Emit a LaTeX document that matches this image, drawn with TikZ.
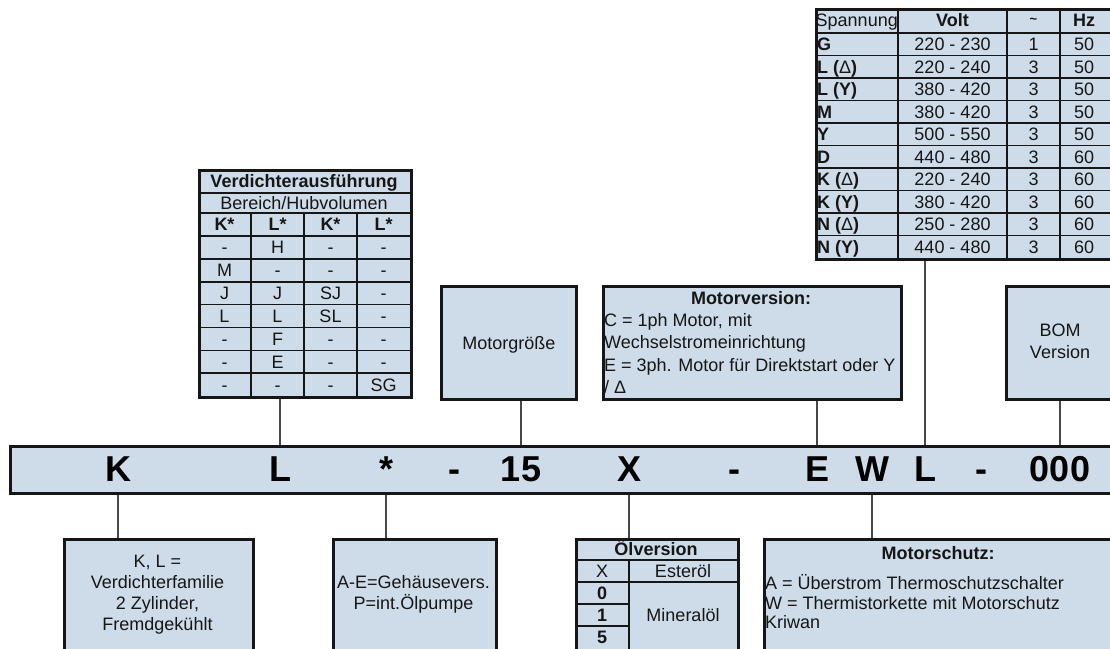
\documentclass[tikz,border=0pt]{standalone}
\usepackage{fontspec}
\setmainfont{Liberation Sans}
\definecolor{fillb}{RGB}{206,220,233}
\definecolor{ink}{RGB}{22,22,22}
\definecolor{wirec}{RGB}{72,72,72}
\tikzset{
  box/.style={draw=ink, line width=2.6pt, fill=fillb, inner sep=0pt, anchor=north west},
  grid/.style={draw=ink, line width=1.6pt},
  wire/.style={draw=wirec, line width=1.8pt},
  txt/.style={font=\fontsize{18}{22}\selectfont, text=ink, inner sep=0pt, text height=12.9pt, text depth=0pt},
  btxt/.style={txt, font=\fontsize{18}{22}\selectfont\bfseries},
  code/.style={font=\fontsize{36}{36}\selectfont\bfseries, text=black, inner sep=0pt, anchor=base},
}
\begin{document}
\begin{tikzpicture}[x=1pt,y=-1pt]
\useasboundingbox (0,0) rectangle (1110,648);
\clip (0,0) rectangle (1110,648);

% ---------- code bar ----------
\node[box, minimum width=1110pt, minimum height=47pt] (bar) at (9,445) {};
\foreach \n/\x/\t in {cK/118/K, cL1/280/L, cS/386/*, cD1/454/-, c15/521/15, cX/629/X,
                      cD2/734/-, cE/817/E, cW/872/W, cL2/925/L, cD3/981/-, c000/1060/000}
  \node[code] (\n) at (\x,481) {\t};

% ---------- Verdichterausfuehrung table ----------
\node[box, minimum width=212pt, minimum height=227pt] (vd) at (198,169) {};
\foreach \y in {193,213,236,258.9,281.7,304.6,327.4,350.3,373.1}
  \draw[grid] (198,\y) -- (410,\y);
\foreach \x in {251,304,357}
  \draw[grid] (\x,213) -- (\x,396);
\node[btxt] (vdt) at (304,181) {Verdichterausführung};
\node[txt] (vds) at (304,203) {Bereich/Hubvolumen};
\node[btxt] (vdh1) at (224.5,224.5) {K*};
\node[btxt] (vdh2) at (277.5,224.5) {L*};
\node[btxt] (vdh3) at (330.5,224.5) {K*};
\node[btxt] (vdh4) at (383.5,224.5) {L*};
\foreach \r/\a/\b/\c/\d in {1/-/H/-/-, 2/M/-/-/-, 3/J/J/SJ/-, 4/L/L/SL/-,
                            5/-/F/-/-, 6/-/E/-/-, 7/-/-/-/SG}{
  \pgfmathsetmacro\yy{236+22.857*(\r-0.5)}
  \node[txt] (vd\r a) at (224.5,\yy) {\a};
  \node[txt] (vd\r b) at (277.5,\yy) {\b};
  \node[txt] (vd\r c) at (330.5,\yy) {\c};
  \node[txt] (vd\r d) at (383.5,\yy) {\d};
}

% ---------- Spannung table ----------
\node[box, minimum width=300pt, minimum height=250pt] (sp) at (815,8) {};
\foreach \k in {0,...,9}
  \draw[grid] (815,33+22.5*\k) -- (1115,33+22.5*\k);
\foreach \x in {898,1007,1060}
  \draw[grid] (\x,8) -- (\x,258);
\node[txt, anchor=west] (sph1) at (815.5,20.5) {Spannung};
\node[btxt] (sph2) at (952.5,20.5) {Volt};
\node[btxt] (sph3) at (1033.5,20.5) {\raisebox{3pt}{\fontsize{13}{13}\selectfont\bfseries \char`~}};
\node[btxt] (sph4) at (1084,20.5) {Hz};
\foreach \r/\a/\b/\c/\d in {1/G/220 - 230/1/50, 2/{L (}\mdseries Δ\bfseries)/220 - 240/3/50,
   3/L (Y)/380 - 420/3/50, 4/M/380 - 420/3/50, 5/Y/500 - 550/3/50, 6/D/440 - 480/3/60,
   7/{K (}\mdseries Δ\bfseries)/220 - 240/3/60, 8/K (Y)/380 - 420/3/60,
   9/{N (}\mdseries Δ\bfseries)/250 - 280/3/60, 10/N (Y)/440 - 480/3/60}{
  \pgfmathsetmacro\yy{33+22.5*(\r-0.5)}
  \node[btxt, anchor=west] (sp\r a) at (817,\yy) {\a};
  \node[txt] (sp\r b) at (952.5,\yy) {\b};
  \node[txt] (sp\r c) at (1033.5,\yy) {\c};
  \node[txt] (sp\r d) at (1084,\yy) {\d};
}

% ---------- Motorgroesse ----------
\node[box, minimum width=135pt, minimum height=113pt] (mg) at (440,285) {};
\node[txt] (mgt) at (mg.center) {Motorgröße};

% ---------- Motorversion ----------
\node[box, minimum width=298pt, minimum height=113pt] (mv) at (602,285) {};
\node[btxt] (mvt) at (751,298) {Motorversion:};
\node[txt, anchor=west] (mv1) at (604,320) {C = 1ph Motor, mit};
\node[txt, anchor=west] (mv2) at (604,342.5) {Wechselstromeinrichtung};
\node[txt, anchor=west] (mv3) at (604,365) {E = 3ph. Motor für Direktstart oder Y};
\node[txt, anchor=west] (mv4) at (604,387) {/ Δ};

% ---------- BOM ----------
\node[box, minimum width=110pt, minimum height=113pt] (bom) at (1005,285) {};
\node[txt] (bom1) at (1060,330) {BOM};
\node[txt] (bom2) at (1060,352) {Version};

% ---------- K, L box ----------
\node[box, minimum width=189pt, minimum height=125pt] (kl) at (63,538) {};
\node[txt] (kl1) at (157.5,561) {K, L =};
\node[txt] (kl2) at (157.5,582) {Verdichterfamilie};
\node[txt] (kl3) at (157.5,603) {2 Zylinder,};
\node[txt] (kl4) at (157.5,624) {Fremdgekühlt};

% ---------- A-E box ----------
\node[box, minimum width=163pt, minimum height=125pt] (ae) at (332,538) {};
\node[txt] (ae1) at (413.5,582) {A-E=Gehäusevers.};
\node[txt] (ae2) at (413.5,603) {P=int.Ölpumpe};

% ---------- Oelversion table ----------
\node[box, minimum width=162pt, minimum height=125pt] (ov) at (575,538) {};
\draw[grid] (575,560) -- (737,560);
\draw[grid] (575,582) -- (737,582);
\draw[grid] (575,604) -- (629,604);
\draw[grid] (575,626) -- (629,626);
\draw[grid] (629,560) -- (629,663);
\node[btxt] (ovt) at (656,549) {Ölversion};
\node[txt] (ovx) at (602,571) {X};
\node[txt] (ove) at (683,571) {Esteröl};
\node[btxt] (ov0) at (602,593) {0};
\node[btxt] (ov1) at (602,615) {1};
\node[btxt] (ov5) at (602,637) {5};
\node[txt] (ovm) at (683,615) {Mineralöl};

% ---------- Motorschutz ----------
\node[box, minimum width=350pt, minimum height=125pt] (ms) at (763,538) {};
\node[btxt] (mst) at (938,553) {Motorschutz:};
\node[txt, anchor=west] (ms1) at (765,583) {A = Überstrom Thermoschutzschalter};
\node[txt, anchor=west] (ms2) at (765,603) {W = Thermistorkette mit Motorschutz};
\node[txt, anchor=west] (ms3) at (765,622) {Kriwan};

% ---------- connectors ----------
\draw[wire] (cL1 |- vd.south) -- (cL1 |- bar.north);
\draw[wire] (c15 |- mg.south) -- (c15 |- bar.north);
\draw[wire] (cE |- mv.south) -- (cE |- bar.north);
\draw[wire] (cL2 |- sp.south) -- (cL2 |- bar.north);
\draw[wire] (c000 |- bom.south) -- (c000 |- bar.north);
\draw[wire] (cK |- bar.south) -- (cK |- kl.north);
\draw[wire] (cS |- bar.south) -- (cS |- ae.north);
\draw[wire] (cX |- bar.south) -- (cX |- ov.north);
\draw[wire] (cW |- bar.south) -- (cW |- ms.north);
\end{tikzpicture}
\end{document}
